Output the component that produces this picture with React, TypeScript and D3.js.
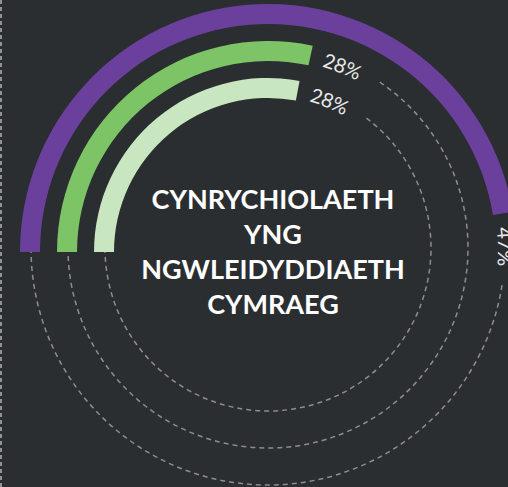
import React from "react";
import * as d3 from "d3";

const categories = ["Cyfanswm", "Grŵp A", "Grŵp B"];
const values = [47.4, 28.4, 27.9];
const labels = ["47%", "28%", "28%"];
const colors = ["#6b409d", "#7cc466", "#c8e6c0"];
const titleLines = ["CYNRYCHIOLAETH", "YNG", "NGWLEIDYDDIAETH", "CYMRAEG"];

const W = 508;
const H = 487;
const cx = 268;
const cy = 252;
const trackCy = 248;
const labelOffset = 14;
const labelSpan = 76;

export default function App() {
  const y = d3
    .scaleBand<string>()
    .domain([...categories].reverse())
    .range([154, 248])
    .paddingInner(17 / 37)
    .paddingOuter(0);
  const bw = y.bandwidth();
  const a = d3.scaleLinear().domain([0, 100]).range([0, 2 * Math.PI]);
  const start = -Math.PI / 2;
  const arc = d3.arc<any>();

  const pt = (r: number, ang: number) => [r * Math.sin(ang), -r * Math.cos(ang)];
  const arcPath = (r: number, a0: number, a1: number) => {
    const p0 = pt(r, a0);
    const mid = (a0 + a1) / 2;
    const pm = pt(r, mid);
    const p1 = pt(r, a1);
    return `M${p0[0]},${p0[1]} A${r},${r} 0 0 1 ${pm[0]},${pm[1]} A${r},${r} 0 0 1 ${p1[0]},${p1[1]}`;
  };

  return (
    <div style={{ position: "fixed", left: 0, top: 0, width: W, height: H }}>
      <svg width={W} height={H} style={{ display: "block", background: "#2b2e31" }}>
        <rect width={W} height={H} fill="#2b2e31" />
        <line x1={1} x2={1} y1={0} y2={H} stroke="#b5b5b5" strokeWidth={1.5} strokeDasharray="4 3" />
        <g transform={`translate(${cx},${trackCy})`}>
          {categories.map((c, i) => {
            const r = (y(c) as number) + bw / 2 - 1;
            const a0 = start + a(values[i]) + labelSpan / r;
            return (
              <path
                key={"t" + c}
                d={arcPath(r, a0, start + 2 * Math.PI)}
                fill="none"
                stroke="#8c8d8f"
                strokeWidth={1.5}
                strokeDasharray="5 4"
              />
            );
          })}
        </g>
        <g transform={`translate(${cx},${cy})`}>
          {categories.map((c, i) => {
            const r0 = y(c) as number;
            return (
              <path
                key={"b" + c}
                d={
                  arc({
                    innerRadius: r0,
                    outerRadius: r0 + bw,
                    startAngle: start,
                    endAngle: start + a(values[i]),
                  }) as string
                }
                fill={colors[i]}
              />
            );
          })}
          {categories.map((c, i) => {
            const r = (y(c) as number) + bw / 2;
            const id = "lp" + i;
            const a0 = start + a(values[i]);
            return (
              <g key={"l" + c}>
                <path id={id} d={arcPath(r, a0, a0 + Math.PI)} fill="none" stroke="none" />
                <text
                  fontFamily="Lato, 'Open Sans', sans-serif"
                  fontSize={20}
                  fill="#e8e8e8"
                  dominantBaseline="central"
                >
                  <textPath href={"#" + id} startOffset={labelOffset}>
                    {labels[i]}
                  </textPath>
                </text>
              </g>
            );
          })}
        </g>
        <text
          x={273}
          y={209}
          textAnchor="middle"
          fontFamily="Lato, 'Open Sans', sans-serif"
          fontWeight={700}
          fontSize={27}
          fill="#ffffff"
        >
          {titleLines.map((t, i) => (
            <tspan key={t} x={273} dy={i === 0 ? 0 : 35}>
              {t}
            </tspan>
          ))}
        </text>
      </svg>
    </div>
  );
}
